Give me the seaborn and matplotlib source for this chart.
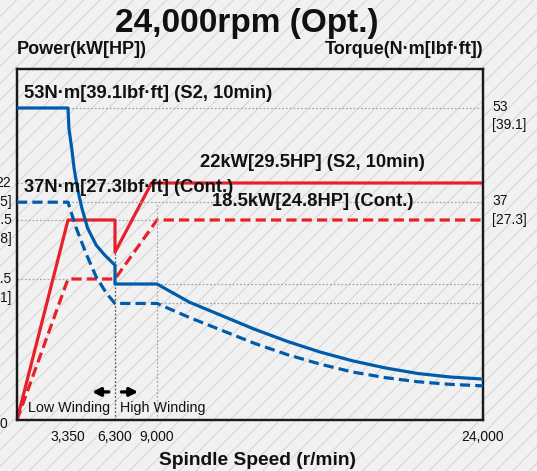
import numpy as np
import seaborn as sns
import matplotlib.pyplot as plt
from matplotlib.patches import Rectangle

# --- data ---
speed_ticks = [3350, 6300, 9000, 24000]
speed_tick_labels = ["3,350", "6,300", "9,000", "24,000"]

# power (kW)
pw_s2_rpm = [0, 3350, 6300, 6300, 8650, 24000]
pw_s2_kw = [0, 18.5, 18.5, 12.5, 22, 22]
pw_cont_rpm = [0, 3350, 6300, 9000, 24000]
pw_cont_kw = [0, 7.5, 7.5, 18.5, 18.5]

# torque (N·m)
tq_s2_rpm = [0, 3350, 3410, 3580, 3730, 3940, 4220, 4580, 5120, 5660, 6300, 6300, 9000,
             10500, 12000, 13500, 15000, 16500, 18000, 19500, 21000, 22500, 24000]
tq_s2_nm = [53, 53, 49.5, 46.2, 42.8, 39.4, 36.0, 32.6, 29.7, 28.0, 26.3, 23.1, 23.1,
            20.0, 17.7, 15.4, 13.35, 11.55, 10.05, 8.85, 7.9, 7.3, 6.95]
tq_cont_rpm = [0, 3350, 3840, 4480, 5120, 5770, 6300, 9000,
               10500, 12000, 13500, 15000, 16500, 18000, 19500, 21000, 22500, 24000]
tq_cont_nm = [37, 37, 32.8, 28.3, 24.3, 21.5, 19.8, 19.8,
              17.4, 15.2, 13.0, 11.1, 9.5, 8.15, 7.2, 6.5, 6.05, 5.8]

power_tick_kw = [7.5, 18.5, 22]
power_tick_hp = ["10.1", "24.8", "29.5"]
torque_tick_nm = [53, 37]
torque_tick_lbf = ["39.1", "27.3"]

# the chart is drawn on a stylised, piecewise scale
speed_bp = [0, 3350, 6300, 9000, 24000]
speed_pos = [0, 51, 98, 140, 466]
power_bp = [0, 7.5, 18.5, 22]
power_pos = [0, 141, 200, 237]

RED = "#e8202a"
BLUE = "#005cab"
GRID = "#a8a8a8"
INK = "#111111"


def piecewise(bp, pos):
    bp = np.asarray(bp, float)
    pos = np.asarray(pos, float)
    s0 = (pos[1] - pos[0]) / (bp[1] - bp[0])
    s1 = (pos[-1] - pos[-2]) / (bp[-1] - bp[-2])
    big = 1e6
    bpe = np.r_[bp[0] - big, bp, bp[-1] + big]
    pe = np.r_[pos[0] - big * s0, pos, pos[-1] + big * s1]
    return (lambda v: np.interp(v, bpe, pe)), (lambda v: np.interp(v, pe, bpe))


sns.set_theme(style="white")
plt.rcParams["font.family"] = ["Liberation Sans", "DejaVu Sans"]
plt.rcParams["hatch.linewidth"] = 0.7

fig = plt.figure(figsize=(5.37, 4.71), dpi=100)
fig.patch.set_facecolor("#f1f1f1")
fig.patches.append(Rectangle((0, 0), 1, 1, transform=fig.transFigure, facecolor="#f1f1f1",
                             edgecolor="#d3d3d3", hatch="//", lw=0, zorder=-10))

ax = fig.add_axes([17 / 537, 1 - 420 / 471, 466 / 537, 351 / 471])
ax.set_facecolor("none")
ax2 = ax.twinx()
ax2.set_facecolor("none")

dash = (0, (3.2, 1.6))

# power curves
sns.lineplot(x=pw_s2_rpm, y=pw_s2_kw, ax=ax, color=RED, lw=2.3, sort=False, estimator=None, zorder=3)
sns.lineplot(x=pw_cont_rpm, y=pw_cont_kw, ax=ax, color=RED, lw=2.3, sort=False, estimator=None,
             linestyle=dash, zorder=3)
# torque curves
sns.lineplot(x=tq_s2_rpm, y=tq_s2_nm, ax=ax2, color=BLUE, lw=2.3, sort=False, estimator=None, zorder=3)
sns.lineplot(x=tq_cont_rpm, y=tq_cont_nm, ax=ax2, color=BLUE, lw=2.3, sort=False, estimator=None,
             linestyle=dash, zorder=3)

# dotted guide lines
gkw = dict(color=GRID, lw=0.9, linestyles=(0, (1.5, 1.5)), zorder=1)
ax.hlines(pw_s2_kw[-1], 0, pw_s2_rpm[-2], **gkw)
ax.hlines(pw_cont_kw[-1], 0, pw_cont_rpm[-2], **gkw)
ax.hlines(pw_cont_kw[1], 0, pw_cont_rpm[1], **gkw)
ax.vlines(6300, 0, pw_s2_kw[3], color="#555555", lw=0.9, linestyles=(0, (1.5, 1.5)), zorder=1)
ax2.hlines(torque_tick_nm, 3350, 24000, **gkw)
ax2.hlines([tq_s2_nm[12], tq_cont_nm[7]], 9000, 24000, **gkw)
ax2.vlines(9000, 0, 37, **gkw)

# scales
fx, ix = piecewise(speed_bp, speed_pos)
fp, ip = piecewise(power_bp, power_pos)
ax.set_xscale("function", functions=(fx, ix))
ax.set_yscale("function", functions=(fp, ip))
ax.set_xlim(0, 24000)
ax.set_ylim(0, float(ip(351)))
ax2.set_ylim(0, 351 * 53 / 312)

ax.set_xticks(speed_ticks)
ax.set_xticklabels(speed_tick_labels, fontsize=10, color=INK)
ax.tick_params(axis="x", length=0, pad=7)
ax.set_yticks([])
ax2.set_yticks([])
ax.set_xlabel("")
ax.set_ylabel("")
ax2.set_ylabel("")
for a in (ax, ax2):
    for s in a.spines.values():
        s.set_color("#1a1a1a")
        s.set_linewidth(1.6)

# axis value labels (left ones run off the edge, as in the original)
ax.annotate("0", xy=(0, 0), xycoords=("axes fraction", "data"), xytext=(-7, -3),
            textcoords="offset points", ha="right", va="center", fontsize=10, color=INK,
            annotation_clip=False)
for kw, hp in zip(power_tick_kw, power_tick_hp):
    ax.annotate(f"{kw:g}", xy=(0, kw), xycoords=("axes fraction", "data"), xytext=(-4, 0),
                textcoords="offset points", ha="right", va="center", fontsize=10, color=INK,
                annotation_clip=False)
    ax.annotate(f"[{hp}]", xy=(0, kw), xycoords=("axes fraction", "data"), xytext=(-4, -13.5),
                textcoords="offset points", ha="right", va="center", fontsize=10, color=INK,
                annotation_clip=False)
for nm, lbf in zip(torque_tick_nm, torque_tick_lbf):
    ax2.annotate(f"{nm}", xy=(1, nm), xycoords=("axes fraction", "data"), xytext=(6.5, 1),
                 textcoords="offset points", ha="left", va="center", fontsize=10, color=INK,
                 annotation_clip=False)
    ax2.annotate(f"[{lbf}]", xy=(1, nm), xycoords=("axes fraction", "data"), xytext=(6.5, -12.5),
                 textcoords="offset points", ha="left", va="center", fontsize=10, color=INK,
                 annotation_clip=False)

# curve notes
bold = dict(fontsize=13.2, fontweight="bold", color=INK, va="center", ha="left",
            transform=ax2.transAxes, zorder=5)
ax2.text(0.015, 0.929, "53N·m[39.1lbf·ft] (S2, 10min)", **bold)
ax2.text(0.015, 0.661, "37N·m[27.3lbf·ft] (Cont.)", **bold)
ax2.text(0.393, 0.733, "22kW[29.5HP] (S2, 10min)", **bold)
ax2.text(0.418, 0.622, "18.5kW[24.8HP] (Cont.)", **bold)

ax2.text(0.024, 0.034, "Low Winding", fontsize=10.3, color=INK, transform=ax2.transAxes,
         va="center", ha="left")
ax2.text(0.221, 0.034, "High Winding", fontsize=10.3, color=INK, transform=ax2.transAxes,
         va="center", ha="left")
arw = dict(arrowstyle="-|>", color="black", lw=2.4, mutation_scale=12, shrinkA=0, shrinkB=0)
ax2.annotate("", xy=(0.161, 0.080), xytext=(0.197, 0.080), xycoords="axes fraction", arrowprops=arw)
ax2.annotate("", xy=(0.260, 0.080), xytext=(0.224, 0.080), xycoords="axes fraction", arrowprops=arw)

# titles
fig.text(0.459, 0.951, "24,000rpm (Opt.)", fontsize=24, fontweight="bold", ha="center", va="center", color=INK)
fig.text(17 / 537, 0.894, "Power(kW[HP])", fontsize=13, fontweight="bold", ha="left", va="center", color=INK)
fig.text(483 / 537, 0.894, "Torque(N·m[lbf·ft])", fontsize=13, fontweight="bold", ha="right", va="center", color=INK)
fig.text(0.479, 0.023, "Spindle Speed (r/min)", fontsize=13.8, fontweight="bold", ha="center", va="center", color=INK)

fig.savefig("out.png", dpi=100, facecolor=fig.get_facecolor())
